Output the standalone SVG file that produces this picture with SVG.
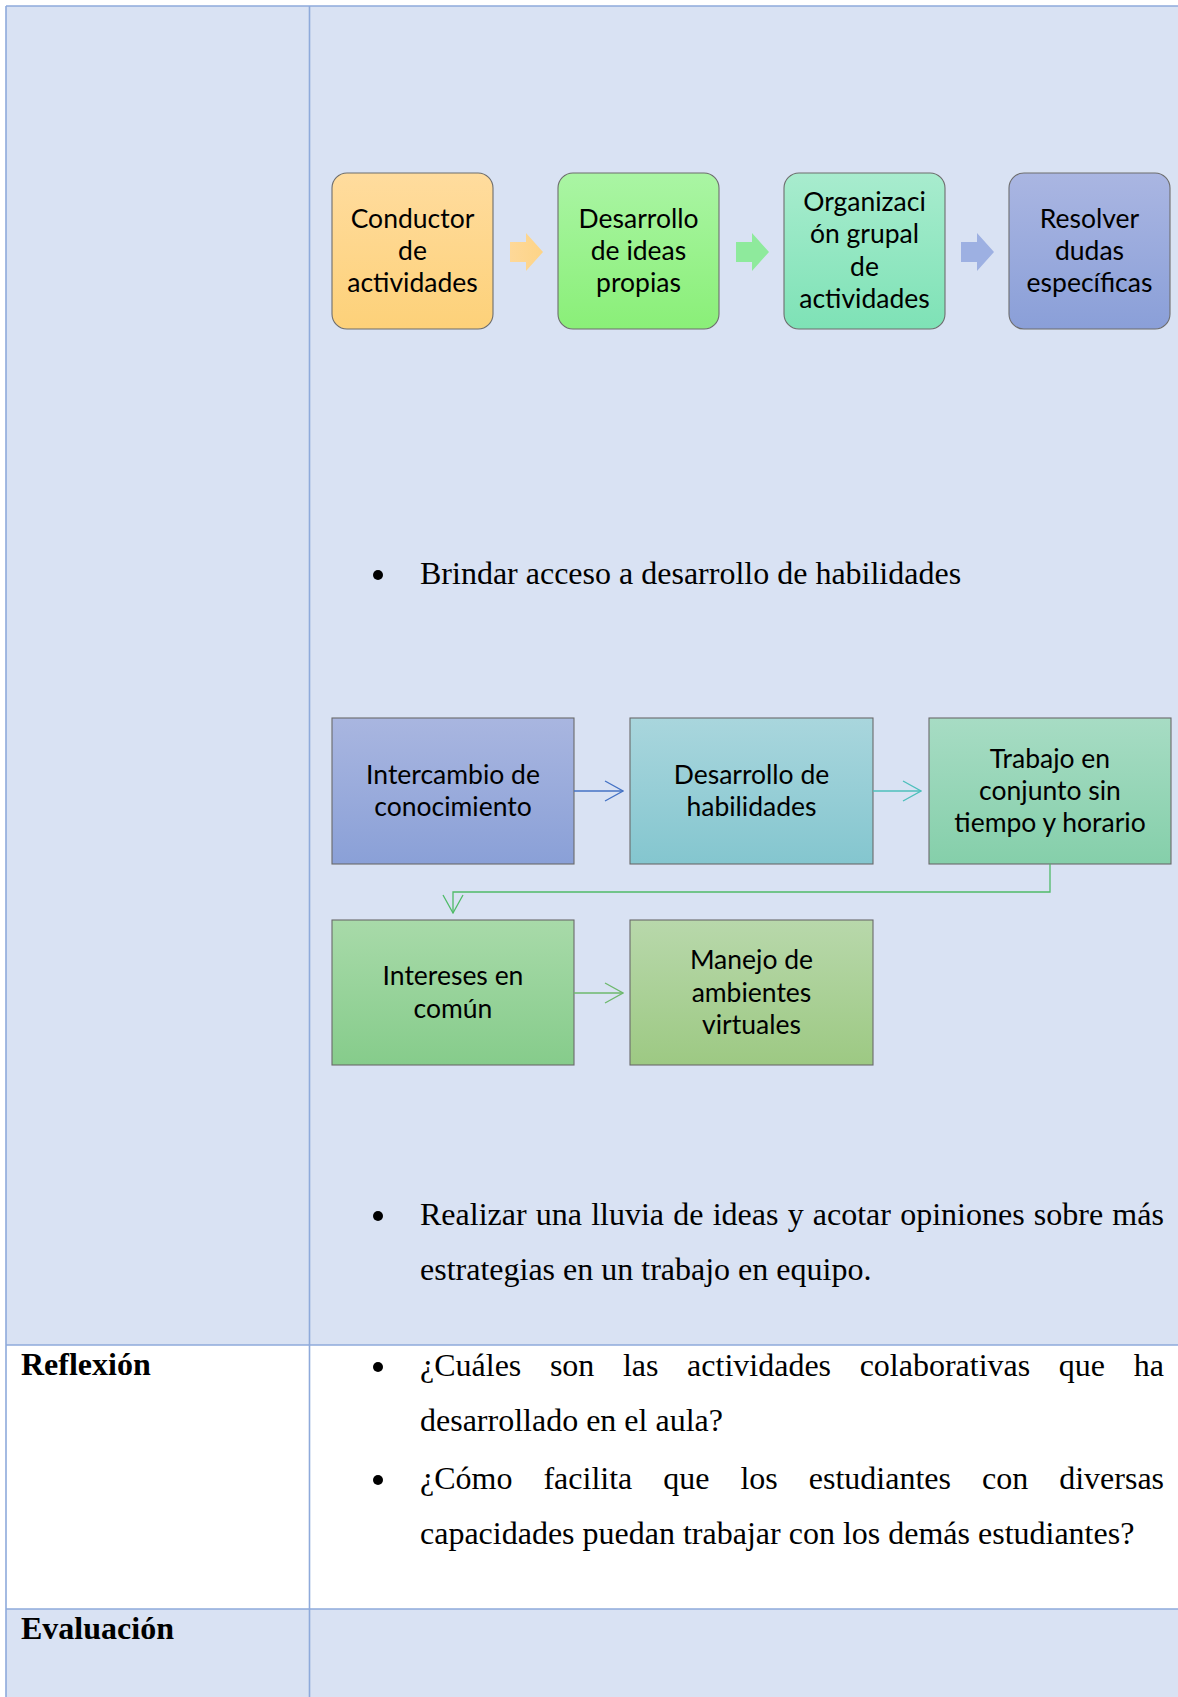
<svg xmlns="http://www.w3.org/2000/svg" width="1178" height="1697" viewBox="0 0 1178 1697">
<style>
.cell-blue{fill:#d9e2f3}
.cell-white{fill:#ffffff}
.grid{stroke:#8eaadb;stroke-width:1.6;fill:none}
.box-r{stroke:#6d6d6d;stroke-width:1.1}
.box-s{stroke:#6a6a6a;stroke-width:1.1}
.lbl{font-family:Lato,"Liberation Sans",sans-serif;font-size:26.5px;fill:#000;text-anchor:middle}
.body{font-family:"Liberation Serif","Times New Roman",serif;font-size:32px;fill:#000}
.head{font-family:"Liberation Serif","Times New Roman",serif;font-size:32px;font-weight:bold;fill:#000}
.conn{fill:none;stroke-width:1.3}
</style>
<defs>
<linearGradient id="gOrange" x1="0" y1="0" x2="0" y2="1"><stop offset="0" stop-color="#ffdc9e"/><stop offset="1" stop-color="#fdd179"/></linearGradient>
<linearGradient id="gLime" x1="0" y1="0" x2="0" y2="1"><stop offset="0" stop-color="#aaf5a4"/><stop offset="1" stop-color="#8aef78"/></linearGradient>
<linearGradient id="gMint" x1="0" y1="0" x2="0" y2="1"><stop offset="0" stop-color="#a8ecce"/><stop offset="1" stop-color="#7ee2b6"/></linearGradient>
<linearGradient id="gPeri" x1="0" y1="0" x2="0" y2="1"><stop offset="0" stop-color="#aab6e2"/><stop offset="1" stop-color="#8a9fd8"/></linearGradient>
<linearGradient id="gBlue" x1="0" y1="0" x2="0" y2="1"><stop offset="0" stop-color="#a9b6e0"/><stop offset="1" stop-color="#8aa0d7"/></linearGradient>
<linearGradient id="gTeal" x1="0" y1="0" x2="0" y2="1"><stop offset="0" stop-color="#a9d6dd"/><stop offset="1" stop-color="#84c6cf"/></linearGradient>
<linearGradient id="gSea" x1="0" y1="0" x2="0" y2="1"><stop offset="0" stop-color="#a7dcc4"/><stop offset="1" stop-color="#85cfaa"/></linearGradient>
<linearGradient id="gGreen" x1="0" y1="0" x2="0" y2="1"><stop offset="0" stop-color="#a8daa9"/><stop offset="1" stop-color="#86cc8b"/></linearGradient>
<linearGradient id="gOlive" x1="0" y1="0" x2="0" y2="1"><stop offset="0" stop-color="#b8d8ab"/><stop offset="1" stop-color="#9dc983"/></linearGradient>
<linearGradient id="aOrange" x1="0" y1="0" x2="1" y2="0"><stop offset="0" stop-color="#fed898"/><stop offset="1" stop-color="#fdd487"/></linearGradient>
<marker id="mBlue" viewBox="0 0 20 22" refX="19" refY="11" markerWidth="20" markerHeight="22" markerUnits="userSpaceOnUse" orient="auto"><path d="M1,1 L19,11 L1,21" fill="none" stroke="#4472c4" stroke-width="1.3"/></marker>
<marker id="mTeal" viewBox="0 0 20 22" refX="19" refY="11" markerWidth="20" markerHeight="22" markerUnits="userSpaceOnUse" orient="auto"><path d="M1,1 L19,11 L1,21" fill="none" stroke="#4cbfbb" stroke-width="1.3"/></marker>
<marker id="mGreen" viewBox="0 0 20 22" refX="19" refY="11" markerWidth="20" markerHeight="22" markerUnits="userSpaceOnUse" orient="auto"><path d="M1,1 L19,11 L1,21" fill="none" stroke="#4fbb68" stroke-width="1.3"/></marker>
<marker id="mLeaf" viewBox="0 0 20 22" refX="19" refY="11" markerWidth="20" markerHeight="22" markerUnits="userSpaceOnUse" orient="auto"><path d="M1,1 L19,11 L1,21" fill="none" stroke="#6db86c" stroke-width="1.3"/></marker>
</defs>

<rect x="0" y="0" width="1178" height="1697" fill="#ffffff"/>

<g id="table">
<rect class="cell-blue" x="6" y="6" width="1172" height="1339"/>
<rect class="cell-white" x="6" y="1345" width="1172" height="264"/>
<rect class="cell-blue" x="6" y="1609" width="1172" height="88"/>
<path class="grid" d="M6,6 H1178 M6,6 V1697 M309.5,6 V1697 M6,1345 H1178 M6,1609 H1178"/>
</g>

<g id="node-conductor">
<rect class="box-r" x="332" y="173" width="161" height="156" rx="15" fill="url(#gOrange)"/>
<text class="lbl"><tspan x="412.5" y="228">Conductor</tspan><tspan x="412.5" y="260">de</tspan><tspan x="412.5" y="292">actividades</tspan></text>
</g>
<g id="node-ideas">
<rect class="box-r" x="558" y="173" width="161" height="156" rx="15" fill="url(#gLime)"/>
<text class="lbl"><tspan x="638.5" y="228">Desarrollo</tspan><tspan x="638.5" y="260">de ideas</tspan><tspan x="638.5" y="292">propias</tspan></text>
</g>
<g id="node-organizacion">
<rect class="box-r" x="784" y="173" width="161" height="156" rx="15" fill="url(#gMint)"/>
<text class="lbl"><tspan x="864.5" y="211">Organizaci</tspan><tspan x="864.5" y="243">ón grupal</tspan><tspan x="864.5" y="276">de</tspan><tspan x="864.5" y="308">actividades</tspan></text>
</g>
<g id="node-resolver">
<rect class="box-r" x="1009" y="173" width="161" height="156" rx="15" fill="url(#gPeri)"/>
<text class="lbl"><tspan x="1089.5" y="228">Resolver</tspan><tspan x="1089.5" y="260">dudas</tspan><tspan x="1089.5" y="292">específicas</tspan></text>
</g>

<g id="bullet-brindar">
<circle cx="378" cy="575" r="5"/>
<text class="body" x="420" y="584">Brindar acceso a desarrollo de habilidades</text>
</g>

<g id="node-intercambio">
<rect class="box-s" x="332" y="718" width="242" height="146" fill="url(#gBlue)"/>
<text class="lbl"><tspan x="453" y="784">Intercambio de</tspan><tspan x="453" y="816">conocimiento</tspan></text>
</g>
<g id="node-habilidades">
<rect class="box-s" x="630" y="718" width="243" height="146" fill="url(#gTeal)"/>
<text class="lbl"><tspan x="751.5" y="784">Desarrollo de</tspan><tspan x="751.5" y="816">habilidades</tspan></text>
</g>
<g id="node-trabajo">
<rect class="box-s" x="929" y="718" width="242" height="146" fill="url(#gSea)"/>
<text class="lbl"><tspan x="1050" y="768">Trabajo en</tspan><tspan x="1050" y="800">conjunto sin</tspan><tspan x="1050" y="832">tiempo y horario</tspan></text>
</g>
<g id="node-intereses">
<rect class="box-s" x="332" y="920" width="242" height="145" fill="url(#gGreen)"/>
<text class="lbl"><tspan x="453" y="985">Intereses en</tspan><tspan x="453" y="1018">común</tspan></text>
</g>
<g id="node-manejo">
<rect class="box-s" x="630" y="920" width="243" height="145" fill="url(#gOlive)"/>
<text class="lbl"><tspan x="751.5" y="969">Manejo de</tspan><tspan x="751.5" y="1002">ambientes</tspan><tspan x="751.5" y="1034">virtuales</tspan></text>
</g>

<g id="connectors">
<polygon points="510,242 526,242 526,233 543,252 526,271 526,262 510,262" fill="url(#aOrange)"/>
<polygon points="736,242 752,242 752,233 769,252 752,271 752,262 736,262" fill="#8eea9c"/>
<polygon points="961,242 977,242 977,233 994,252 977,271 977,262 961,262" fill="#9db0e2"/>
<path class="conn" d="M574,791 H623" stroke="#4472c4" marker-end="url(#mBlue)"/>
<path class="conn" d="M873,791 H921" stroke="#4cbfbb" marker-end="url(#mTeal)"/>
<path class="conn" d="M1050,864 V892 H453 V913" stroke="#4fbb68" marker-end="url(#mGreen)"/>
<path class="conn" d="M574,993 H623" stroke="#6db86c" marker-end="url(#mLeaf)"/>
</g>

<g id="bullet-realizar">
<circle cx="378" cy="1216" r="5"/>
<text class="body" x="420" y="1225" word-spacing="1.2">Realizar una lluvia de ideas y acotar opiniones sobre más</text>
<text class="body" x="420" y="1280">estrategias en un trabajo en equipo.</text>
</g>

<g id="row-reflexion">
<text class="head" x="21" y="1375">Reflexión</text>
<circle cx="378" cy="1367" r="5"/>
<text class="body" x="420" y="1376" word-spacing="20.6">¿Cuáles son las actividades colaborativas que ha</text>
<text class="body" x="420" y="1431">desarrollado en el aula?</text>
<circle cx="378" cy="1480" r="5"/>
<text class="body" x="420" y="1489" word-spacing="23">¿Cómo facilita que los estudiantes con diversas</text>
<text class="body" x="420" y="1544">capacidades puedan trabajar con los demás estudiantes?</text>
</g>

<g id="row-evaluacion">
<text class="head" x="21" y="1639">Evaluación</text>
</g>
</svg>
